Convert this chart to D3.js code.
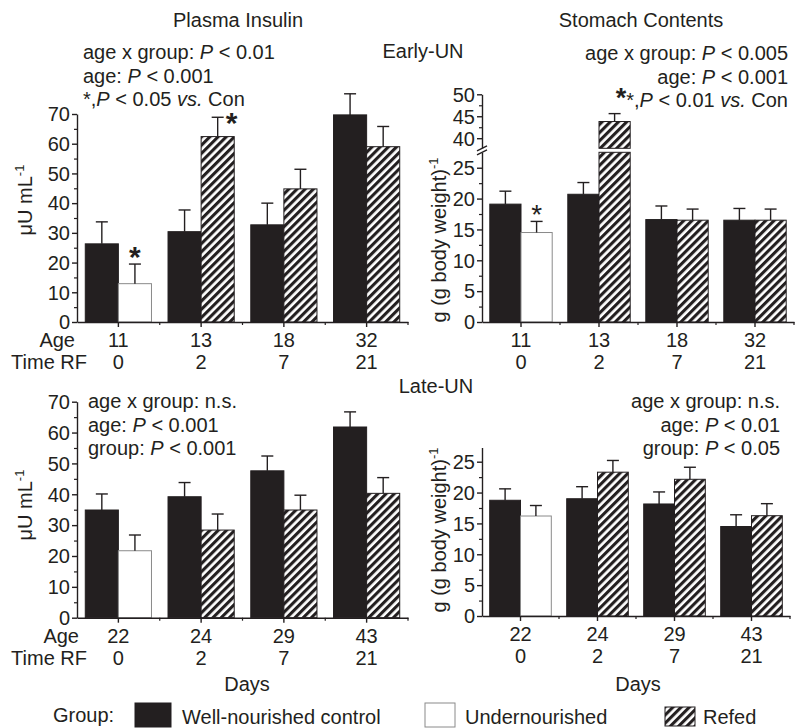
<!DOCTYPE html>
<html>
<head>
<meta charset="utf-8">
<script src="https://cdn.jsdelivr.net/npm/d3@7"></script>
<style>
  body { margin: 0; background: #fff; }
</style>
</head>
<body>
<script>
// ages / days of refeeding for the two experiments
const earlyAge = ["11", "13", "18", "32"];
const lateAge = ["22", "24", "29", "43"];
const timeRF = ["0", "2", "7", "21"];
// second bar of each pair: undernourished at day 0, refed after
const secondGroup = ["under", "refed", "refed", "refed"];

// plasma insulin (uU/mL), early-UN
const earlyInsulinCon = [26.3, 30.4, 32.7, 69.7];
const earlyInsulinConSem = [7.4, 7.3, 7.3, 7.1];
const earlyInsulinTrt = [12.9, 62.4, 44.8, 59.0];
const earlyInsulinTrtSem = [6.6, 6.5, 6.6, 6.8];
const earlyInsulinSig = ["*", "*", "", ""];

// stomach contents (g/g bw), early-UN
const earlyStomachCon = [19.1, 20.7, 16.6, 16.5];
const earlyStomachConSem = [2.1, 1.9, 2.2, 1.9];
const earlyStomachTrt = [14.5, 43.8, 16.5, 16.5];
const earlyStomachTrtSem = [1.8, 1.8, 1.8, 1.8];
const earlyStomachSig = ["*", "", "", ""];

// plasma insulin, late-UN
const lateInsulinCon = [34.9, 39.2, 47.6, 61.8];
const lateInsulinConSem = [5.2, 4.6, 4.8, 4.9];
const lateInsulinTrt = [21.7, 28.4, 34.9, 40.3];
const lateInsulinTrtSem = [5.1, 5.2, 4.8, 5.1];

// stomach contents, late-UN
const lateStomachCon = [18.75, 19.0, 18.15, 14.5];
const lateStomachConSem = [1.85, 1.95, 1.95, 1.9];
const lateStomachTrt = [16.2, 23.3, 22.15, 16.25];
const lateStomachTrtSem = [1.7, 1.9, 1.95, 1.95];
const noSig = ["", "", "", ""];

const insulinTicks = [0, 10, 20, 30, 40, 50, 60, 70];
const insulinMinor = [5, 15, 25, 35, 45, 55, 65];
const stomachTicks = [0, 5, 10, 15, 20, 25];
const stomachMinor = [2.5, 7.5, 12.5, 17.5, 22.5];
const stomachUpperTicks = [40, 45, 50];
const stomachUpperMinor = [42.5, 47.5];

const F = "'Liberation Sans', Arial, Helvetica, sans-serif";
const FS = 20;
const INK = "#231f20";

const svg = d3.select("body").append("svg")
  .attr("width", 801)
  .attr("height", 728)
  .attr("font-family", F)
  .attr("font-size", FS)
  .attr("fill", INK);

const defs = svg.append("defs");
const hatch = defs.append("pattern")
  .attr("id", "hatch")
  .attr("patternUnits", "userSpaceOnUse")
  .attr("width", 5.8).attr("height", 5.8)
  .attr("patternTransform", "rotate(45)");
hatch.append("rect").attr("width", 5.8).attr("height", 5.8).attr("fill", "#fff");
hatch.append("rect").attr("width", 3.1).attr("height", 5.8).attr("fill", INK);

const fillOf = k => k == "con" ? INK : (k == "under" ? "#fff" : "url(#hatch)");
const strokeOf = k => k == "under" ? "#8a8a8a" : INK;

// text with italic / bold pieces
function rich(g, x, y, anchor, parts) {
  const t = g.append("text").attr("x", x).attr("y", y).attr("text-anchor", anchor);
  parts.forEach(p => {
    if (typeof p == "string") { t.append("tspan").text(p); return; }
    const s = t.append("tspan").text(p.t);
    if (p.i) s.attr("font-style", "italic");
    if (p.b) s.attr("font-weight", "bold");
    if (p.fs) s.attr("font-size", p.fs);
  });
  return t;
}
const P = { t: "P", i: 1 };
const VS = { t: "vs.", i: 1 };

function yAxis(g, scale, x, majors, minors) {
  const a = g.append("g").attr("transform", `translate(${x},0)`)
    .call(d3.axisLeft(scale).tickValues(majors).tickSize(5).tickSizeOuter(0).tickPadding(2));
  a.attr("font-family", F).attr("font-size", FS);
  a.selectAll("text").attr("fill", INK).attr("dy", "0.34em");
  a.selectAll("line, path").attr("stroke", INK).attr("stroke-width", 1.4);
  const m = g.append("g").attr("transform", `translate(${x},0)`)
    .call(d3.axisLeft(scale).tickValues(minors).tickSize(3).tickFormat(""));
  m.select(".domain").remove();
  m.selectAll("line").attr("stroke", INK).attr("stroke-width", 1.2);
}

function yLabel(g, x, y, main, sup) {
  const t = g.append("text")
    .attr("transform", `translate(${x},${y}) rotate(-90)`)
    .attr("text-anchor", "middle");
  t.append("tspan").text(main);
  t.append("tspan").text(sup).attr("font-size", 13).attr("dy", -8);
}

// one bar panel; brk = {lowMax, upMin, up} for a broken y axis
function barPanel(opt) {
  const g = svg.append("g");
  const x = d3.scaleBand().domain(opt.cats).range(opt.xr).padding(0);
  const inner = d3.scaleBand().domain(["a", "b"]).range([0, x.bandwidth()])
    .paddingInner(0).paddingOuter(0.25);
  const low = opt.y;
  const brk = opt.brk;
  const yv = v => (brk && v > brk.lowMax) ? brk.up(v) : low(v);

  const rows = [];
  opt.cats.forEach((c, i) => {
    rows.push({ c, k: "con", slot: "a", v: opt.con[i], e: opt.conSem[i], s: "" });
    rows.push({ c, k: secondGroup[i], slot: "b", v: opt.trt[i], e: opt.trtSem[i], s: opt.sig[i] });
  });
  const segs = rows.flatMap(r => (brk && r.v > brk.lowMax)
    ? [{ r, y0: low(0), y1: low(brk.lowMax) }, { r, y0: brk.up(brk.upMin), y1: brk.up(r.v) }]
    : [{ r, y0: low(0), y1: low(r.v) }]);

  g.append("g").selectAll("rect").data(segs).join("rect")
    .attr("x", d => x(d.r.c) + inner(d.r.slot))
    .attr("width", inner.bandwidth())
    .attr("y", d => d.y1)
    .attr("height", d => d.y0 - d.y1)
    .attr("fill", d => fillOf(d.r.k))
    .attr("stroke", d => strokeOf(d.r.k))
    .attr("stroke-width", 1);

  const cx = d => x(d.c) + inner(d.slot) + inner.bandwidth() / 2;
  const err = g.append("g").attr("stroke", INK).attr("stroke-width", 1.4);
  err.selectAll(".stem").data(rows).join("line")
    .attr("x1", cx).attr("x2", cx)
    .attr("y1", d => yv(d.v)).attr("y2", d => yv(d.v + d.e));
  err.selectAll(".cap").data(rows).join("line")
    .attr("x1", d => cx(d) - 6).attr("x2", d => cx(d) + 6)
    .attr("y1", d => yv(d.v + d.e)).attr("y2", d => yv(d.v + d.e));

  // significance stars: above the error bar, or beside it when it would hit the top
  const top = brk ? brk.up.range()[1] : low.range()[1];
  const beside = d => yv(d.v + d.e) - 16 < top;
  g.append("g").selectAll("text").data(rows.filter(d => d.s)).join("text")
    .attr("text-anchor", "middle")
    .attr("font-size", opt.starSize)
    .attr("font-weight", opt.starBold ? "bold" : "normal")
    .attr("x", d => beside(d) ? cx(d) + 14 : cx(d))
    .attr("y", d => beside(d) ? yv(d.v + d.e) + 16 : yv(d.v + d.e) + 3)
    .text(d => d.s);

  // x axis
  const base = low(0);
  const xa = g.append("g").attr("transform", `translate(0,${base})`)
    .call(d3.axisBottom(x).tickSize(5).tickSizeOuter(0).tickFormat(""));
  xa.selectAll("line, path").attr("stroke", INK).attr("stroke-width", 1.4);
  g.append("g").selectAll("line").data(opt.cats.slice(1).concat(["end"])).join("line")
    .attr("x1", d => d == "end" ? opt.xr[1] : x(d))
    .attr("x2", d => d == "end" ? opt.xr[1] : x(d))
    .attr("y1", base).attr("y2", base + 3)
    .attr("stroke", INK).attr("stroke-width", 1.2);

  // y axis
  yAxis(g, low, opt.xr[0], opt.yTicks, opt.yMinor);
  if (brk) {
    yAxis(g, brk.up, opt.xr[0], stomachUpperTicks, stomachUpperMinor);
    const bx = opt.xr[0];
    const ya = brk.up(brk.upMin), yb = low(brk.lowMax);
    g.append("rect").attr("x", bx - 1.5).attr("y", ya).attr("width", 3).attr("height", yb - ya).attr("fill", "#fff");
    [ya, yb].forEach(yy => g.append("line")
      .attr("x1", bx - 5).attr("y1", yy + 2.5).attr("x2", bx + 5).attr("y2", yy - 2.5)
      .attr("stroke", INK).attr("stroke-width", 1.4));
  }

  // category rows under the axis
  const mid = c => x(c) + x.bandwidth() / 2;
  g.append("g").attr("text-anchor", "middle").selectAll("text").data(opt.cats).join("text")
    .attr("x", mid).attr("y", base + 25).text(d => d);
  g.append("g").attr("text-anchor", "middle").selectAll("text").data(opt.cats).join("text")
    .attr("x", mid).attr("y", base + 47).text((d, i) => timeRF[i]);
  return { x, base };
}

// ---- top left: plasma insulin, early-UN
const p1 = barPanel({
  cats: earlyAge, con: earlyInsulinCon, conSem: earlyInsulinConSem,
  trt: earlyInsulinTrt, trtSem: earlyInsulinTrtSem, sig: earlyInsulinSig,
  xr: [77, 408], y: d3.scaleLinear().domain([0, 70]).range([322, 114]),
  yTicks: insulinTicks, yMinor: insulinMinor, starSize: 30, starBold: true
});

// ---- top right: stomach contents, early-UN (broken axis)
const p2 = barPanel({
  cats: earlyAge, con: earlyStomachCon, conSem: earlyStomachConSem,
  trt: earlyStomachTrt, trtSem: earlyStomachTrtSem, sig: earlyStomachSig,
  xr: [482, 794], y: d3.scaleLinear().domain([0, 27.5]).range([322, 152.3]),
  yTicks: stomachTicks, yMinor: stomachMinor, starSize: 28, starBold: false,
  brk: { lowMax: 27.5, upMin: 37.7, up: d3.scaleLinear().domain([37.7, 50]).range([148.3, 94.3]) }
});

// ---- bottom left: plasma insulin, late-UN
const p3 = barPanel({
  cats: lateAge, con: lateInsulinCon, conSem: lateInsulinConSem,
  trt: lateInsulinTrt, trtSem: lateInsulinTrtSem, sig: noSig,
  xr: [77, 408], y: d3.scaleLinear().domain([0, 70]).range([617.7, 401.7]),
  yTicks: insulinTicks, yMinor: insulinMinor, starSize: 30, starBold: true
});

// ---- bottom right: stomach contents, late-UN
const p4 = barPanel({
  cats: lateAge, con: lateStomachCon, conSem: lateStomachConSem,
  trt: lateStomachTrt, trtSem: lateStomachTrtSem, sig: noSig,
  xr: [482, 790], y: d3.scaleLinear().domain([0, 27.3]).range([616, 447.5]),
  yTicks: stomachTicks, yMinor: stomachMinor, starSize: 28, starBold: false
});

// titles and row labels
const txt = svg.append("g");
txt.append("text").attr("x", 238).attr("y", 27).attr("text-anchor", "middle").text("Plasma Insulin");
txt.append("text").attr("x", 641).attr("y", 27).attr("text-anchor", "middle").text("Stomach Contents");
txt.append("text").attr("x", 423).attr("y", 58).attr("text-anchor", "middle").text("Early-UN");
txt.append("text").attr("x", 436).attr("y", 393).attr("text-anchor", "middle").text("Late-UN");

txt.append("text").attr("x", 75).attr("y", p1.base + 25).attr("text-anchor", "end").text("Age");
txt.append("text").attr("x", 87).attr("y", p1.base + 47).attr("text-anchor", "end").text("Time RF");
txt.append("text").attr("x", 79).attr("y", p3.base + 25).attr("text-anchor", "end").text("Age");
txt.append("text").attr("x", 87).attr("y", p3.base + 47).attr("text-anchor", "end").text("Time RF");
txt.append("text").attr("x", 247).attr("y", 691).attr("text-anchor", "middle").text("Days");
txt.append("text").attr("x", 638).attr("y", 691).attr("text-anchor", "middle").text("Days");

yLabel(txt, 32, 200, "\u03bcU mL", "-1");
yLabel(txt, 32, 505, "\u03bcU mL", "-1");
yLabel(txt, 446, 240, "g (g body weight)", "-1");
yLabel(txt, 446, 530, "g (g body weight)", "-1");

// statistics
const ann = svg.append("g");
[["age x group: ", P, " < 0.01"], ["age: ", P, " < 0.001"], ["*,", P, " < 0.05 ", VS, " Con"]]
  .forEach((l, i) => rich(ann, 83, 59 + i * 23.5, "start", l));
[["age x group: ", P, " < 0.005"], ["age: ", P, " < 0.001"],
 [{ t: "*", b: 1, fs: 27 }, "*,", P, " < 0.01 ", VS, " Con"]]
  .forEach((l, i) => rich(ann, 788, 60 + i * 23.5, "end", l));
[["age x group: n.s."], ["age: ", P, " < 0.001"], ["group: ", P, " < 0.001"]]
  .forEach((l, i) => rich(ann, 88, 408 + i * 23.5, "start", l));
[["age x group: n.s."], ["age: ", P, " < 0.01"], ["group: ", P, " < 0.05"]]
  .forEach((l, i) => rich(ann, 780, 408 + i * 23.5, "end", l));

// legend
const leg = svg.append("g");
leg.append("text").attr("x", 53).attr("y", 722).text("Group:");
leg.append("rect").attr("x", 135).attr("y", 703).attr("width", 36).attr("height", 24)
  .attr("fill", INK).attr("stroke", INK);
leg.append("text").attr("x", 182).attr("y", 724).text("Well-nourished control");
leg.append("rect").attr("x", 425).attr("y", 703).attr("width", 30).attr("height", 24)
  .attr("fill", "#fff").attr("stroke", "#8a8a8a");
leg.append("text").attr("x", 465).attr("y", 724).text("Undernourished");
leg.append("rect").attr("x", 665).attr("y", 707).attr("width", 30).attr("height", 19)
  .attr("fill", "url(#hatch)").attr("stroke", INK);
leg.append("text").attr("x", 703).attr("y", 724).text("Refed");
</script>
</body>
</html>
